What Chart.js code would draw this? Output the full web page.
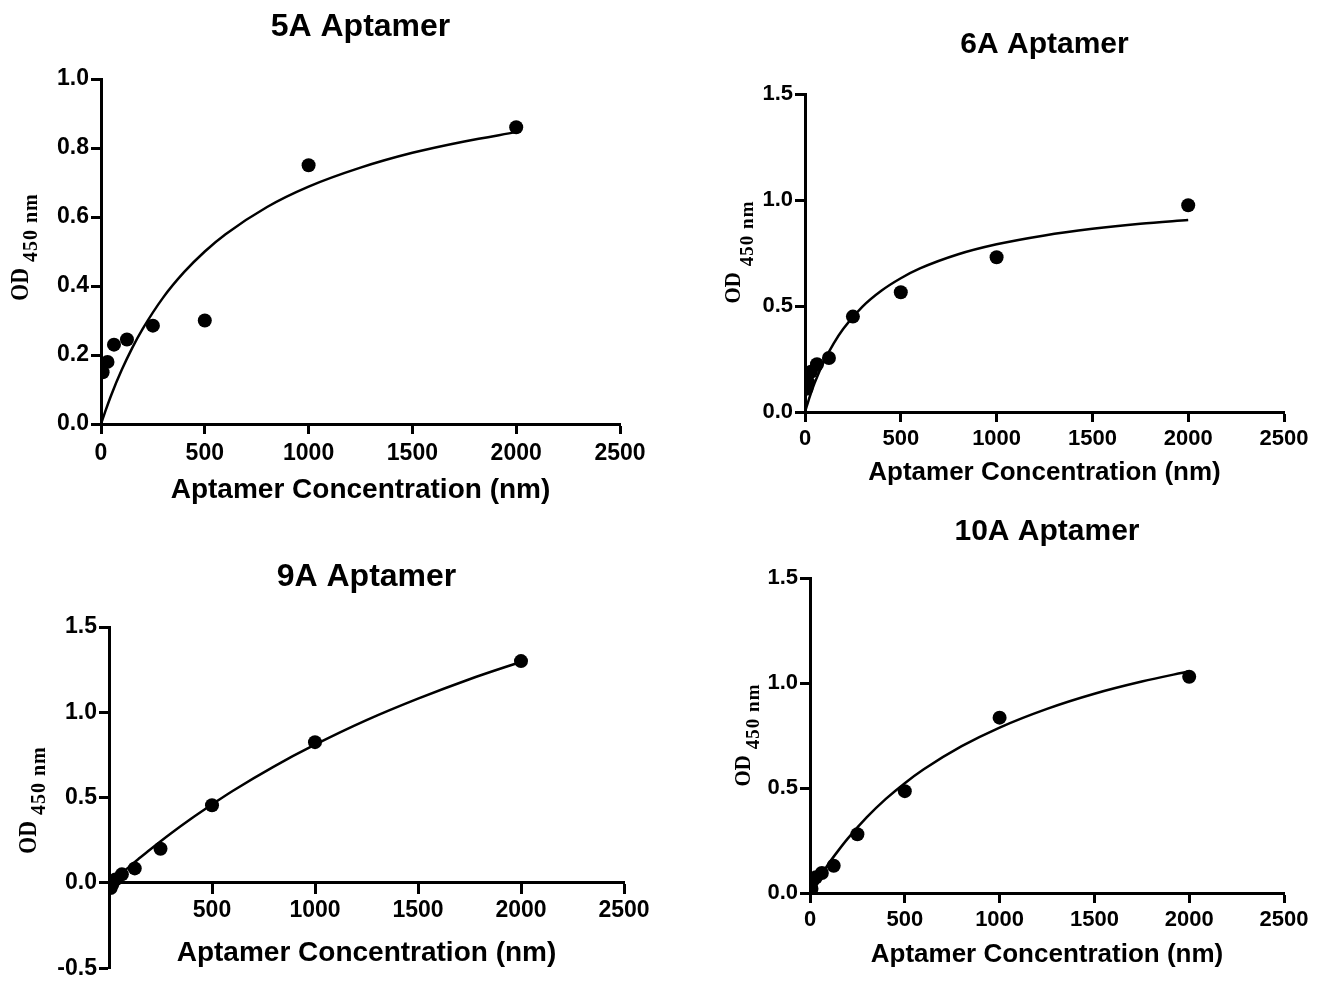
<!DOCTYPE html>
<html>
<head>
<meta charset="utf-8">
<script src="https://cdn.jsdelivr.net/npm/chart.js@4.4.1/dist/chart.umd.min.js"></script>
<style>
  html, body { margin: 0; padding: 0; background: #fff; }
  body { width: 1322px; height: 984px; position: relative; overflow: hidden; }
  canvas { position: absolute; }
</style>
</head>
<body>
<canvas id="c1" width="661" height="515" style="left:0;top:0"></canvas>
<canvas id="c2" width="661" height="515" style="left:661px;top:0"></canvas>
<canvas id="c3" width="661" height="484" style="left:0;top:500px"></canvas>
<canvas id="c4" width="661" height="484" style="left:661px;top:500px"></canvas>
<script>
// ---- data ----
const xTicks = [0, 500, 1000, 1500, 2000, 2500];
const xTitle = "Aptamer Concentration (nm)";
const yTitleMain = "OD";
const yTitleSub = "450 nm";

const titles = ["5A Aptamer", "6A Aptamer", "9A Aptamer", "10A Aptamer"];

const conc5A = [7.8, 31.25, 62.5, 125, 250, 500, 1000, 2000];
const od5A   = [0.15, 0.18, 0.23, 0.245, 0.285, 0.30, 0.75, 0.86];

const conc6A = [7.8, 15.6, 31.25, 62.5, 125, 250, 500, 1000, 2000];
const od6A   = [0.11, 0.14, 0.19, 0.225, 0.255, 0.45, 0.565, 0.73, 0.975];

const conc9A = [7.8, 15.6, 31.25, 62.5, 125, 250, 500, 1000, 2000];
const od9A   = [-0.03, -0.01, 0.02, 0.05, 0.085, 0.20, 0.455, 0.825, 1.30];

const conc10A = [7.8, 15.6, 31.25, 62.5, 125, 250, 500, 1000, 2000];
const od10A   = [0.02, 0.06, 0.075, 0.095, 0.13, 0.28, 0.485, 0.835, 1.03];

// fitted curves
const fitX    = [0, 25, 50, 100, 150, 200, 300, 400, 500, 600, 800, 1000, 1250, 1500, 1750, 2000];
const fit5A   = [0, 0.044, 0.085, 0.157, 0.22, 0.275, 0.367, 0.44, 0.50, 0.55, 0.629, 0.688, 0.743, 0.786, 0.819, 0.846];
const fit6A   = [0, 0.073, 0.136, 0.241, 0.324, 0.393, 0.497, 0.573, 0.631, 0.677, 0.744, 0.791, 0.833, 0.864, 0.888, 0.906];
const fit9A   = [-0.01, 0.017, 0.044, 0.097, 0.147, 0.196, 0.29, 0.378, 0.46, 0.539, 0.682, 0.81, 0.954, 1.08, 1.194, 1.296];
const fit10A  = [0, 0.038, 0.074, 0.142, 0.203, 0.26, 0.361, 0.448, 0.523, 0.589, 0.699, 0.788, 0.877, 0.949, 1.007, 1.056];

const yRanges = [[0, 1.0, 0.2], [0, 1.5, 0.5], [-0.5, 1.5, 0.5], [0, 1.5, 0.5]];

// ---- layout / style ----
const SANS = "'Liberation Sans', Arial, sans-serif";
const SERIF = "'Liberation Serif', 'Times New Roman', serif";
const Y_W = 70, X_H = 40;

const panels = [
  { id: 'c1', conc: conc5A, od: od5A, fit: fit5A, range: yRanges[0], title: titles[0],
    pad: { left: 31, top: 79, right: 41, bottom: 51 }, crossZero: false, xPad: 6,
    titleY: 27, xTitleY: 490, odBase: 28, subBase: 37, yTitleCY: 247,
    fs: { title: 32, tick: 23, xt: 28, od: 25, sub: 20 } },
  { id: 'c2', conc: conc6A, od: od6A, fit: fit6A, range: yRanges[1], title: titles[1],
    pad: { left: 74, top: 94, right: 38, bottom: 63 }, crossZero: false, xPad: 4,
    titleY: 45, xTitleY: 473, odBase: 79, subBase: 92, yTitleCY: 252,
    fs: { title: 30, tick: 22, xt: 26, od: 24, sub: 19 } },
  { id: 'c3', conc: conc9A, od: od9A, fit: fit9A, range: yRanges[2], title: titles[2],
    pad: { left: 39, top: 127, right: 37, bottom: 14 }, crossZero: true, xPad: 4,
    titleY: 77, xTitleY: 453, odBase: 36, subBase: 45, yTitleCY: 300,
    fs: { title: 32, tick: 23, xt: 28, od: 25, sub: 20 } },
  { id: 'c4', conc: conc10A, od: od10A, fit: fit10A, range: yRanges[3], title: titles[3],
    pad: { left: 79, top: 78, right: 38, bottom: 51 }, crossZero: false, xPad: 4,
    titleY: 32, xTitleY: 455, odBase: 89, subBase: 98, yTitleCY: 235,
    fs: { title: 30, tick: 22, xt: 26, od: 24, sub: 19 } }
];

const textPlugin = {
  id: 'panelText',
  afterDraw(chart, args, o) {
    const ctx = chart.ctx;
    const ca = chart.chartArea;
    const cx = (ca.left + ca.right) / 2;
    ctx.save();
    ctx.fillStyle = '#000';
    ctx.textAlign = 'center';
    ctx.textBaseline = 'middle';
    ctx.font = `bold ${o.fs.title}px ${SANS}`;
    ctx.fillText(o.title, cx, o.titleY);
    ctx.font = `bold ${o.fs.xt}px ${SANS}`;
    ctx.fillText(xTitle, cx, o.xTitleY);
    // rotated y title with subscript
    const odScale = 0.87;
    ctx.textAlign = 'left';
    ctx.textBaseline = 'alphabetic';
    ctx.font = `bold ${o.fs.od}px ${SERIF}`;
    const wOD = ctx.measureText(yTitleMain).width * odScale;
    ctx.font = `bold ${o.fs.sub}px ${SERIF}`;
    try { ctx.letterSpacing = '1px'; } catch (e) {}
    const wSub = ctx.measureText(yTitleSub).width;
    const gap = 6;
    const total = wOD + gap + wSub;
    ctx.translate(o.odBase, o.yTitleCY);
    ctx.rotate(-Math.PI / 2);
    ctx.font = `bold ${o.fs.sub}px ${SERIF}`;
    ctx.fillText(yTitleSub, -total / 2 + wOD + gap, o.subBase - o.odBase);
    try { ctx.letterSpacing = '0px'; } catch (e) {}
    ctx.font = `bold ${o.fs.od}px ${SERIF}`;
    ctx.translate(-total / 2, 0);
    ctx.scale(odScale, 1);
    ctx.fillText(yTitleMain, 0, 0);
    ctx.restore();
  }
};

panels.forEach(p => {
  const pts = p.conc.map((c, i) => ({ x: c, y: p.od[i] }));
  const curve = fitX.map((c, i) => ({ x: c, y: p.fit[i] }));
  const [ymin, ymax, ystep] = p.range;
  new Chart(document.getElementById(p.id), {
    type: 'scatter',
    data: {
      datasets: [
        { data: curve, showLine: true, borderColor: '#000', borderWidth: 2.5,
          pointRadius: 0, cubicInterpolationMode: 'monotone', fill: false, order: 2 },
        { data: pts, showLine: false, backgroundColor: '#000', borderColor: '#000',
          pointRadius: 7, pointBorderWidth: 0, order: 1 }
      ]
    },
    options: {
      responsive: false,
      animation: false,
      devicePixelRatio: 1,
      layout: { padding: p.pad },
      plugins: {
        legend: { display: false },
        tooltip: { enabled: false },
        panelText: { title: p.title, titleY: p.titleY, xTitleY: p.xTitleY,
          odBase: p.odBase, subBase: p.subBase, yTitleCY: p.yTitleCY, fs: p.fs }
      },
      scales: {
        x: {
          type: 'linear',
          position: p.crossZero ? { y: 0 } : 'bottom',
          min: xTicks[0], max: xTicks[xTicks.length - 1],
          afterBuildTicks: s => { s.ticks = xTicks.map(v => ({ value: v })); },
          afterFit: s => { if (!p.crossZero) s.height = X_H; },
          grid: { drawOnChartArea: false, drawTicks: true, tickLength: 10, tickWidth: 3, tickColor: '#000' },
          border: { display: true, width: 3, color: '#000' },
          ticks: {
            color: '#000', padding: p.xPad, maxRotation: 0, autoSkip: false,
            font: { family: SANS, size: p.fs.tick, weight: 'bold' },
            callback: v => (p.crossZero && v === 0) ? '' : String(v)
          }
        },
        y: {
          type: 'linear', position: 'left',
          min: ymin, max: ymax,
          afterFit: s => { s.width = Y_W; },
          grid: { drawOnChartArea: false, drawTicks: true, tickLength: 10, tickWidth: 3, tickColor: '#000' },
          border: { display: true, width: 3, color: '#000' },
          ticks: {
            color: '#000', padding: 2, stepSize: ystep, autoSkip: false,
            font: { family: SANS, size: p.fs.tick, weight: 'bold' },
            callback: v => Number(v).toFixed(1)
          }
        }
      }
    },
    plugins: [textPlugin]
  });
});
</script>
</body>
</html>
